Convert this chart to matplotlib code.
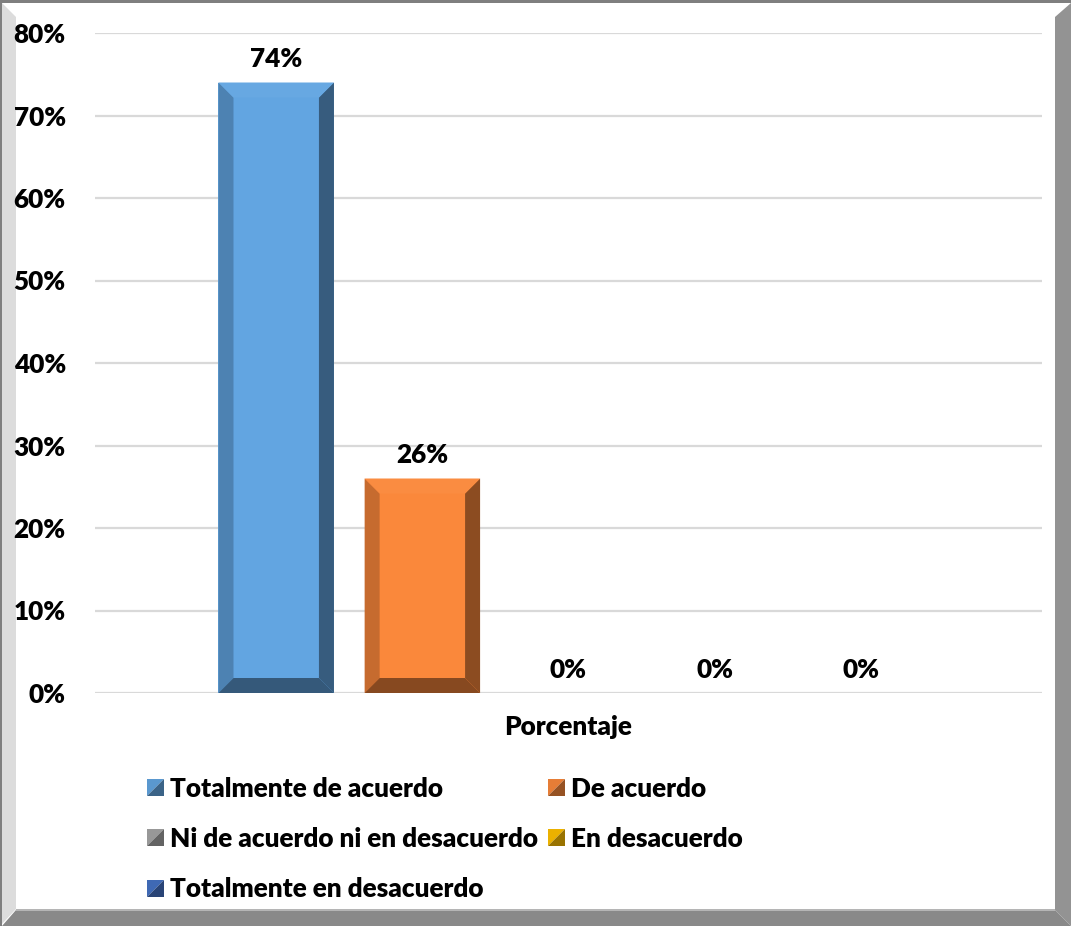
import matplotlib
matplotlib.use("Agg")
import matplotlib.pyplot as plt
from matplotlib.patches import Polygon, Rectangle
from matplotlib.legend_handler import HandlerBase
import matplotlib.colors as mcolors
import numpy as np

# ---- data ----
series = ["Totalmente de acuerdo", "De acuerdo", "Ni de acuerdo ni en desacuerdo",
          "En desacuerdo", "Totalmente en desacuerdo"]
values = [74, 26, 0, 0, 0]
category = "Porcentaje"
yticks = [0, 10, 20, 30, 40, 50, 60, 70, 80]
ytick_labels = ["0%", "10%", "20%", "30%", "40%", "50%", "60%", "70%", "80%"]
face_colors = ["#62A5E1", "#FA883B", "#A5A5A5", "#FFC000", "#4472C4"]

W, H = 1071, 926
FONT = "Lato"
FS = 18.8
WT = 'heavy'

plt.rcParams['font.family'] = [FONT, 'DejaVu Sans']
plt.rcParams['font.weight'] = WT


def shade(c, f):
    r, g, b = mcolors.to_rgb(c)
    if f <= 1:
        return (r * f, g * f, b * f)
    return (r + (1 - r) * (f - 1), g + (1 - g) * (f - 1), b + (1 - b) * (f - 1))


fig = plt.figure(figsize=(W / 100, H / 100), dpi=100)
fig.patch.set_facecolor("white")


def P(x, y):
    return (x / W, 1 - y / H)


def fig_poly(pts, color, z=0):
    fig.add_artist(Polygon([P(x, y) for x, y in pts], closed=True, facecolor=color,
                           edgecolor='none', transform=fig.transFigure, zorder=z))


# ---- frame (bevelled border) ----
fig_poly([(0, 0), (W, 0), (W, 3), (0, 3)], "#7F7F7F")
fig_poly([(0, 0), (2, 0), (2, H), (0, H)], "#7F7F7F")
fig_poly([(2, 3), (16, 17), (16, 909), (2, 924)], "#DCDCDC")
fig_poly([(1055, 17), (W, 3), (W, H), (1055, 910)], "#939393")
fig_poly([(2, H), (16, 910), (1055, 910), (W, H)], "#898989")
fig_poly([(16, 909), (1055, 909), (1055, 911), (16, 911)], "#B5B5B5")

# ---- axes ----
left, right, top, bottom = 95, 1042, 33, 693
ax = fig.add_axes([left / W, 1 - bottom / H, (right - left) / W, (bottom - top) / H])
ax.set_facecolor("none")
n = len(series)
x = np.arange(n)
ax.set_xlim(-1.24, n - 1 + 1.24)
ax.set_ylim(0, 80)
for s in ax.spines.values():
    s.set_visible(False)
ax.set_yticks(yticks)
ax.set_yticklabels(ytick_labels, fontsize=FS, fontweight=WT)
ax.set_xticks([(n - 1) / 2])
ax.set_xticklabels([category], fontsize=FS, fontweight=WT)
ax.tick_params(axis='y', length=0, pad=21)
ax.tick_params(axis='x', length=0, pad=16)
ax.grid(axis='y', color="#D9D9D9", linewidth=1.6)
ax.set_axisbelow(True)

bar_w = 0.79
bars = ax.bar(x, values, width=bar_w, color=face_colors, zorder=2)

# bevel sizes in data units (~15 px)
px_per_x = (right - left) / (ax.get_xlim()[1] - ax.get_xlim()[0])
px_per_y = (bottom - top) / 80
bx = 15 / px_per_x
by = 15 / px_per_y

for rect, c, v in zip(bars, face_colors, values):
    x0 = rect.get_x()
    x1 = x0 + rect.get_width()
    h = rect.get_height()
    if h <= 2 * by:
        continue
    topc = shade(c, 1.03)
    leftc = shade(c, 0.79)
    rightc = shade(c, 0.56)
    botc = shade(c, 0.54)
    polys = [
        ([(x0, 0), (x0, h), (x0 + bx, h - by), (x0 + bx, by)], leftc),
        ([(x1, 0), (x1, h), (x1 - bx, h - by), (x1 - bx, by)], rightc),
        ([(x0, h), (x1, h), (x1 - bx, h - by), (x0 + bx, h - by)], topc),
        ([(x0, 0), (x1, 0), (x1 - bx, by), (x0 + bx, by)], botc),
    ]
    for pts, col in polys:
        ax.add_patch(Polygon(pts, closed=True, facecolor=col, edgecolor='none', zorder=3))

for xi, v in zip(x, values):
    ax.annotate(f"{v}%", xy=(xi, v), xytext=(0, 8), textcoords='offset points',
                ha='center', va='bottom', fontsize=FS, fontweight=WT, zorder=4)


# ---- legend ----
class BevelHandler(HandlerBase):
    def create_artists(self, legend, orig_handle, xdescent, ydescent, width, height,
                       fontsize, trans):
        c = orig_handle.get_facecolor()
        s = min(width, height)
        x0, y0 = -xdescent, -ydescent + (height - s) / 2
        light = shade(c, 0.92)
        dark = shade(c, 0.6)
        t1 = Polygon([(x0, y0), (x0, y0 + s), (x0 + s, y0 + s)], closed=True,
                     facecolor=light, edgecolor='none', transform=trans)
        t2 = Polygon([(x0, y0), (x0 + s, y0), (x0 + s, y0 + s)], closed=True,
                     facecolor=dark, edgecolor='none', transform=trans)
        return [t1, t2]


handles = [Rectangle((0, 0), 1, 1, facecolor=c) for c in face_colors]
order = [0, 2, 4, 1, 3]
leg = fig.legend([handles[i] for i in order], [series[i] for i in order], ncol=2,
                 loc='upper left', bbox_to_anchor=P(147, 777), frameon=False,
                 prop={'weight': WT, 'size': FS},
                 handler_map={Rectangle: BevelHandler()},
                 handlelength=0.65, handleheight=0.65, handletextpad=0.22,
                 columnspacing=0.4, labelspacing=1.0, borderpad=0, borderaxespad=0)

fig.savefig("out.png", dpi=100)
